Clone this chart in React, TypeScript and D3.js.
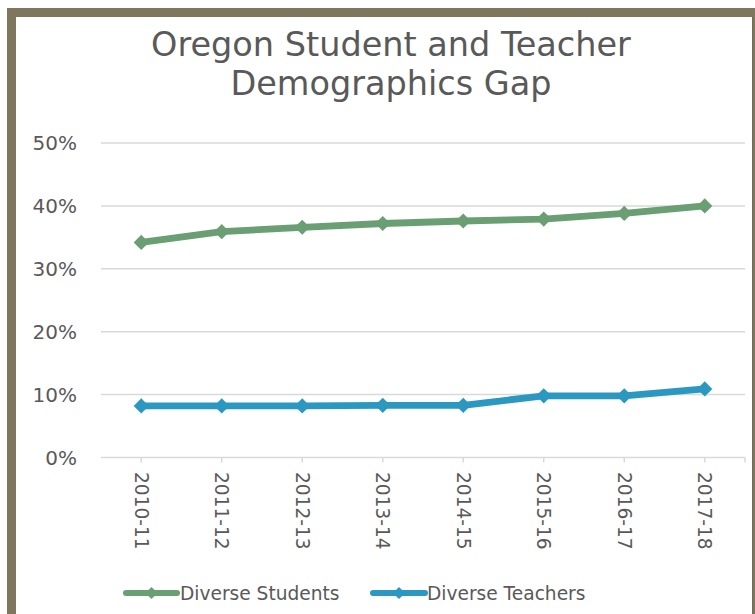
import * as d3 from "d3";

const CATEGORIES = ["2010-11", "2011-12", "2012-13", "2013-14", "2014-15", "2015-16", "2016-17", "2017-18"];
const STUDENTS = [34.2, 35.9, 36.6, 37.2, 37.6, 37.9, 38.8, 40.0];
const TEACHERS = [8.2, 8.2, 8.2, 8.3, 8.3, 9.8, 9.8, 10.9];
const Y_TICKS = [0, 10, 20, 30, 40, 50];
const TITLE_LINES = ["Oregon Student and Teacher", "Demographics Gap"];

const SERIES = [
  { name: "Diverse Students", values: STUDENTS, color: "#6a9e73" },
  { name: "Diverse Teachers", values: TEACHERS, color: "#2a98c1" },
];

const FONT = "'DejaVu Sans', Tahoma, sans-serif";
const TEXT = "#595959";

export default function App() {
  const width = 755;
  const height = 614;
  const plot = { left: 101, right: 745, top: 143, bottom: 457.5 };

  const x = d3.scaleBand<string>().domain(CATEGORIES).range([plot.left, plot.right]);
  const cx = (c: string) => x(c)! + x.bandwidth() / 2;
  const y = d3.scaleLinear().domain([0, 50]).range([plot.bottom, plot.top]);

  const line = d3
    .line<number>()
    .x((_, i) => cx(CATEGORIES[i]))
    .y((d) => y(d));

  const diamond = d3.symbol(d3.symbolSquare, 115)()!;
  const smallDiamond = d3.symbol(d3.symbolSquare, 75)()!;

  // legend layout
  const legendY = 593;
  const legendItems = [
    { x0: 126, x1: 177, tx: 180 },
    { x0: 373, x1: 425, tx: 427 },
  ];

  return (
    <svg
      width={width}
      height={height}
      style={{ position: "absolute", left: 0, top: 0, background: "#fff" }}
      fontFamily={FONT}
    >
      {/* frame */}
      <rect x={7} y={8} width={748} height={606} fill="#80765e" />
      <rect x={16} y={17} width={736} height={597} fill="#ffffff" />
      <line x1={752.5} y1={17} x2={752.5} y2={614} stroke="#6f6a5e" strokeWidth={1} />

      {/* title */}
      {TITLE_LINES.map((t, i) => (
        <text key={t} x={391} y={56 + i * 39} textAnchor="middle" fontSize={33.5} fill={TEXT}>
          {t}
        </text>
      ))}

      {/* gridlines and y labels */}
      {Y_TICKS.map((t) => (
        <g key={t}>
          <line x1={plot.left} x2={plot.right} y1={y(t)} y2={y(t)} stroke="#d9d9d9" strokeWidth={1.5} />
          <text x={77} y={y(t)} dy="0.36em" textAnchor="end" fontSize={20} fill={TEXT}>
            {t}%
          </text>
        </g>
      ))}

      {/* x ticks and labels */}
      {CATEGORIES.map((c) => (
        <g key={c}>
          <line x1={cx(c)} x2={cx(c)} y1={plot.bottom} y2={plot.bottom + 5} stroke="#d9d9d9" strokeWidth={1.5} />
          <text
            transform={`translate(${cx(c)},${472}) rotate(90)`}
            dy="0.36em"
            textAnchor="start"
            fontSize={18.6}
            fill={TEXT}
          >
            {c}
          </text>
        </g>
      ))}
      <line x1={plot.right} x2={plot.right} y1={plot.bottom} y2={plot.bottom + 5} stroke="#d9d9d9" strokeWidth={1.5} />

      {/* series */}
      {SERIES.map((s) => (
        <g key={s.name}>
          <path d={line(s.values)!} fill="none" stroke={s.color} strokeWidth={6.8} strokeLinejoin="round" strokeLinecap="round" />
          {s.values.map((v, i) => (
            <path
              key={i}
              d={diamond}
              transform={`translate(${cx(CATEGORIES[i])},${y(v)}) rotate(45)`}
              fill={s.color}
            />
          ))}
        </g>
      ))}

      {/* legend */}
      {SERIES.map((s, i) => {
        const l = legendItems[i];
        return (
          <g key={s.name}>
            <line x1={l.x0} x2={l.x1} y1={legendY} y2={legendY} stroke={s.color} strokeWidth={6} strokeLinecap="round" />
            <path d={smallDiamond} transform={`translate(${(l.x0 + l.x1) / 2},${legendY}) rotate(45)`} fill={s.color} />
            <text x={l.tx} y={legendY} dy="0.36em" fontSize={18.6} fill={TEXT}>
              {s.name}
            </text>
          </g>
        );
      })}
    </svg>
  );
}
